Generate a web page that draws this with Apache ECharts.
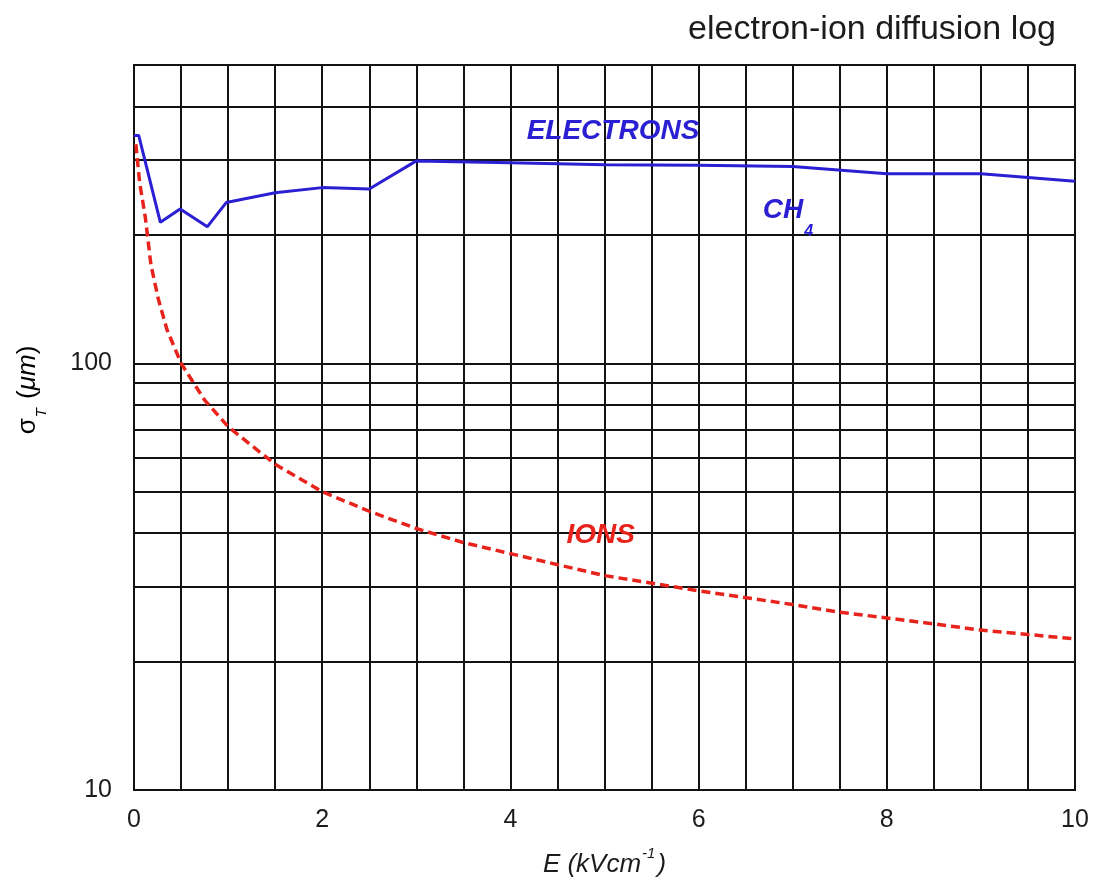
<!DOCTYPE html>
<html>
<head>
<meta charset="utf-8">
<script src="https://cdn.jsdelivr.net/npm/echarts@6/dist/echarts.min.js"></script>
<style>
  html, body { margin: 0; padding: 0; background: #fff; }
  #chart { width: 1094px; height: 891px; }
</style>
</head>
<body>
<div id="chart"></div>
<script>
// Transverse diffusion σT (μm) against drift field E (kV/cm) in CH4
const electronPoints = [
  [0, 342], [0.05, 342], [0.28, 214], [0.49, 230], [0.78, 209], [0.98, 238],
  [1.5, 251], [2, 258], [2.5, 256], [3, 298], [4, 295], [5, 292], [6, 291],
  [7, 289], [8, 278], [9, 278], [10, 267]
];
const ionPoints = [
  [0.02, 326], [0.06, 265], [0.12, 220], [0.18, 170], [0.26, 141], [0.35, 120],
  [0.5, 100], [0.75, 82], [1, 71], [1.5, 58], [2, 50], [2.5, 45], [3, 41],
  [3.5, 38], [4, 35.8], [5, 31.8], [6, 29.3], [7, 27.2], [7.5, 26.1], [8, 25.3],
  [8.5, 24.5], [9, 23.7], [10, 22.6]
];
const xTickLabels = [0, 2, 4, 6, 8, 10];
const yTickLabels = [10, 100];
const yGridValues = [20, 30, 40, 50, 60, 70, 80, 90, 200, 300, 400];

const FONT = '"Liberation Sans", Arial, Helvetica, sans-serif';
const GRID_COLOR = '#131313';
const TEXT_COLOR = '#1c1c1c';
const BLUE = '#2a1fd2';
const RED = '#e8231c';

const chart = echarts.init(document.getElementById('chart'), null, { renderer: 'canvas' });

chart.setOption({
  animation: false,
  backgroundColor: '#ffffff',
  title: {
    text: 'electron-ion diffusion log',
    right: 33,
    top: 8,
    textStyle: { fontFamily: FONT, fontSize: 34, fontWeight: 'normal', color: TEXT_COLOR }
  },
  grid: {
    left: 134, right: 19, top: 65, bottom: 101,
    show: true, borderColor: GRID_COLOR, borderWidth: 2, backgroundColor: 'transparent'
  },
  xAxis: {
    type: 'value',
    min: 0, max: 10, interval: 2,
    name: '{i|E (kVcm}{s|-1}{i|)}',
    nameLocation: 'middle',
    nameGap: 56,
    nameTextStyle: {
      rich: {
        i: { fontFamily: FONT, fontSize: 26, fontStyle: 'italic', color: TEXT_COLOR, verticalAlign: 'bottom', lineHeight: 32 },
        s: { fontFamily: FONT, fontSize: 15, fontStyle: 'italic', color: TEXT_COLOR, verticalAlign: 'top', lineHeight: 32, padding: [0, 2, 0, 1] }
      }
    },
    axisLine: { show: true, lineStyle: { color: GRID_COLOR, width: 2 } },
    axisTick: { show: false },
    minorTick: { show: false, splitNumber: 4 },
    axisLabel: {
      margin: 18,
      fontFamily: FONT, fontSize: 25, color: TEXT_COLOR,
      formatter: v => (xTickLabels.includes(Math.round(v)) ? String(Math.round(v)) : '')
    },
    splitLine: { show: true, lineStyle: { color: GRID_COLOR, width: 2 } },
    minorSplitLine: { show: true, lineStyle: { color: GRID_COLOR, width: 2 } }
  },
  yAxis: {
    type: 'log',
    logBase: 10,
    min: 10, max: 500,
    axisLine: { show: true, lineStyle: { color: GRID_COLOR, width: 2 } },
    axisTick: { show: false },
    axisLabel: {
      margin: 22,
      fontFamily: FONT, fontSize: 25, color: TEXT_COLOR,
      formatter: v => {
        const r = Math.round(v);
        return yTickLabels.includes(r) && Math.abs(v - r) < 1e-6 * r ? String(r) : '';
      }
    },
    splitLine: { show: true, lineStyle: { color: GRID_COLOR, width: 2 } }
  },
  graphic: [{
    type: 'text',
    x: 32,
    y: 390,
    rotation: Math.PI / 2,
    style: {
      text: '{g|σ}{t|T}{g| (}{m|μm}{g|)}',
      align: 'center',
      verticalAlign: 'middle',
      rich: {
        g: { fontFamily: FONT, fontSize: 26, color: TEXT_COLOR, verticalAlign: 'top', lineHeight: 28 },
        m: { fontFamily: FONT, fontSize: 26, fontStyle: 'italic', color: TEXT_COLOR, verticalAlign: 'top', lineHeight: 28 },
        t: { fontFamily: FONT, fontSize: 15, fontStyle: 'italic', color: TEXT_COLOR, verticalAlign: 'top', padding: [20, 2, 0, 1] }
      }
    }
  }],
  series: [
    {
      name: 'IONS',
      type: 'line',
      data: ionPoints,
      showSymbol: false,
      symbol: 'none',
      z: 3,
      lineStyle: { color: RED, width: 3.5, type: [9, 5] },
      markLine: {
        silent: true,
        symbol: 'none',
        z: 1,
        label: { show: false },
        lineStyle: { color: GRID_COLOR, width: 2, type: 'solid' },
        data: yGridValues.map(v => ({ yAxis: v }))
      },
      markPoint: {
        silent: true,
        symbol: 'circle',
        symbolSize: 1,
        itemStyle: { color: 'transparent' },
        label: {
          show: true,
          position: 'inside',
          formatter: 'IONS',
          fontFamily: FONT, fontSize: 28, fontWeight: 'bold', fontStyle: 'italic', color: RED
        },
        data: [{ coord: [4.96, 39.6] }]
      }
    },
    {
      name: 'ELECTRONS',
      type: 'line',
      data: electronPoints,
      showSymbol: false,
      symbol: 'none',
      z: 4,
      lineStyle: { color: BLUE, width: 3 },
      markPoint: {
        silent: true,
        symbol: 'circle',
        symbolSize: 1,
        itemStyle: { color: 'transparent' },
        label: {
          show: true,
          position: 'inside',
          fontFamily: FONT, fontSize: 28, fontWeight: 'bold', fontStyle: 'italic', color: BLUE
        },
        data: [
          { coord: [5.09, 350], label: { formatter: 'ELECTRONS' } },
          {
            coord: [6.95, 219],
            label: {
              formatter: '{a|CH}{b|4}',
              rich: {
                a: { fontFamily: FONT, fontSize: 28, fontWeight: 'bold', fontStyle: 'italic', color: BLUE, verticalAlign: 'top', lineHeight: 30 },
                b: { fontFamily: FONT, fontSize: 16, fontWeight: 'bold', fontStyle: 'italic', color: BLUE, verticalAlign: 'top', padding: [28, 0, 0, 1] }
              }
            }
          }
        ]
      }
    }
  ]
});
</script>
</body>
</html>
